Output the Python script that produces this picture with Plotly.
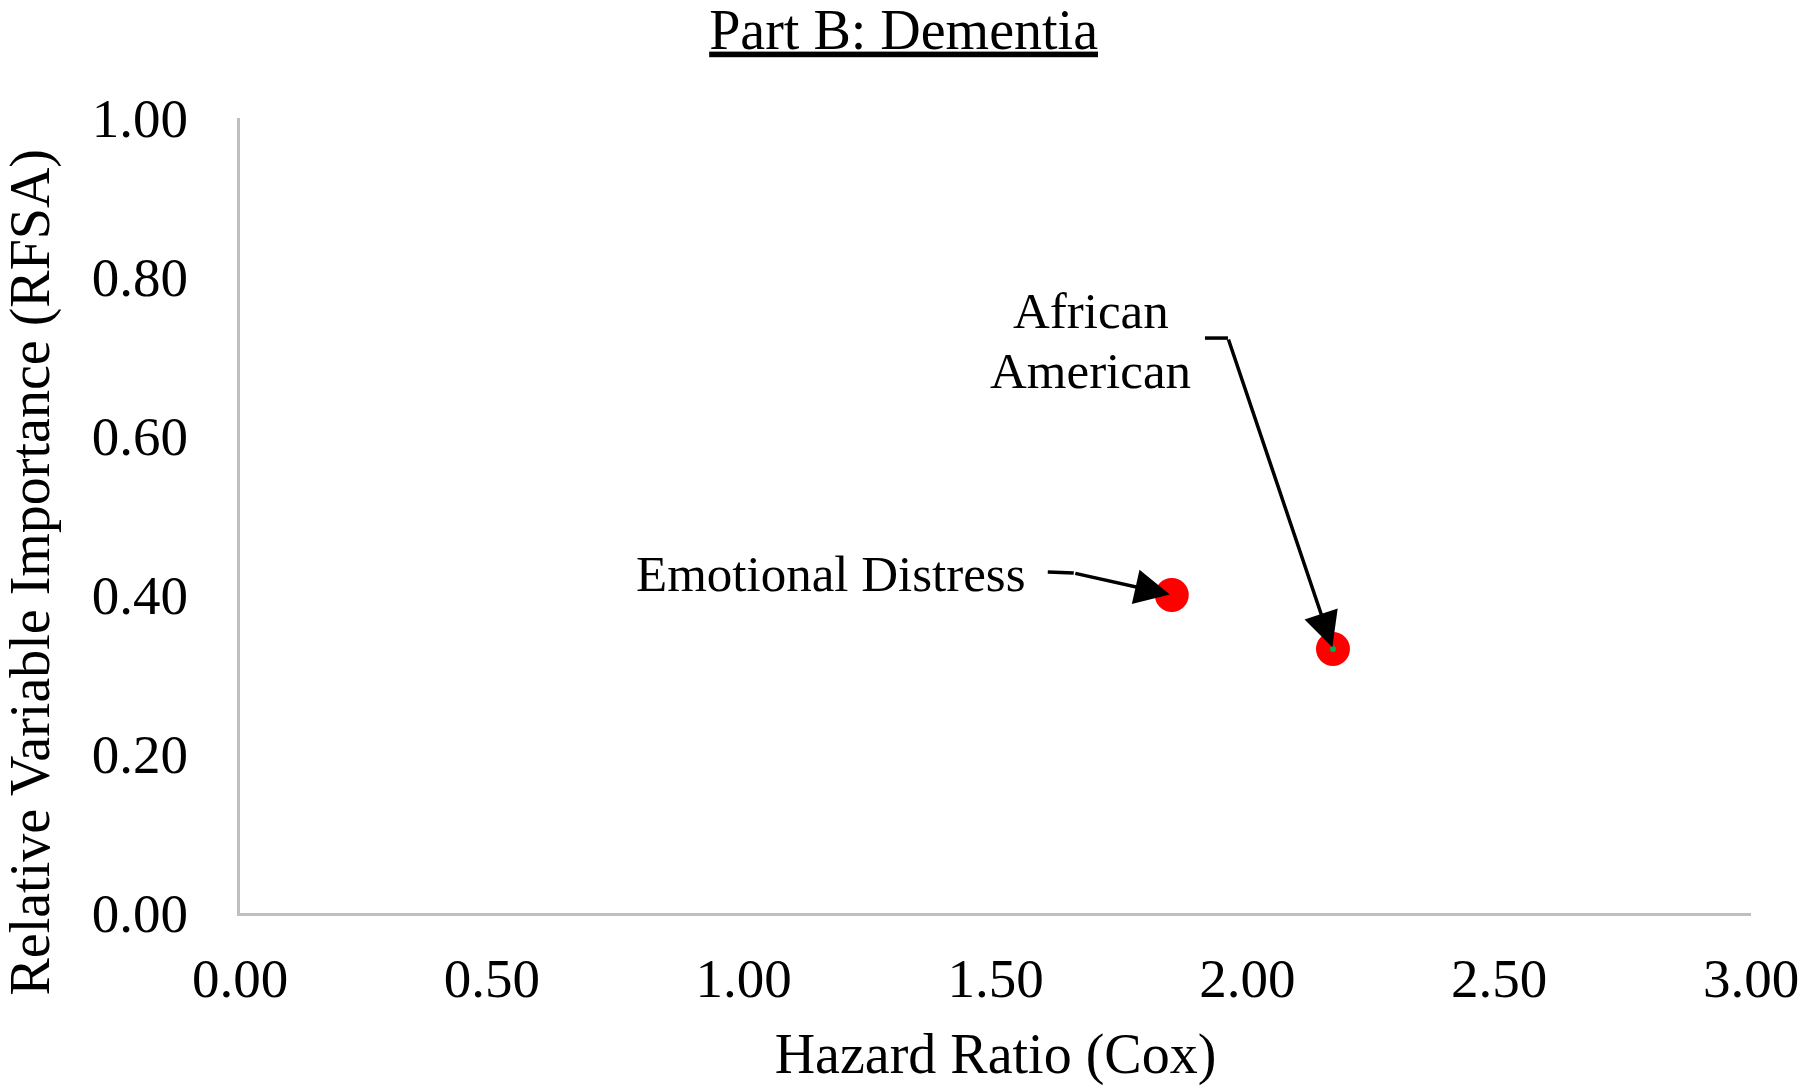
import plotly.graph_objects as go

labels = ["Emotional Distress", "African American"]
hazard_ratio = [1.85, 2.17]
importance = [0.40, 0.332]

x_ticks = [0.0, 0.5, 1.0, 1.5, 2.0, 2.5, 3.0]
y_ticks = [0.0, 0.2, 0.4, 0.6, 0.8, 1.0]

FONT = "Liberation Serif"
AXIS_GREY = "#BFBFBF"
ANN = dict(family=FONT, size=51, color="black")

fig = go.Figure()
fig.add_trace(go.Scatter(
    x=hazard_ratio, y=importance, mode="markers",
    marker=dict(color="#FF0000", size=34, line=dict(width=0)),
    hoverinfo="skip", showlegend=False, cliponaxis=False,
))
# small green point visible at the centre of the African American marker
fig.add_trace(go.Scatter(
    x=[hazard_ratio[1]], y=[importance[1]], mode="markers",
    marker=dict(color="#00B050", size=6),
    hoverinfo="skip", showlegend=False, cliponaxis=False,
))

# Emotional Distress label + arrow
fig.add_annotation(x=hazard_ratio[0], y=importance[0], text=labels[0],
                   showarrow=False, xanchor="right", yanchor="middle",
                   xshift=-144, yshift=21, font=ANN)
fig.add_annotation(x=hazard_ratio[0], y=importance[0], text="", showarrow=True,
                   ax=-98, ay=-22, arrowhead=2, arrowsize=2.0, arrowwidth=3.5,
                   arrowcolor="black", standoff=2)
fig.add_shape(type="line", xref="x", yref="y", xsizemode="pixel", ysizemode="pixel",
              xanchor=hazard_ratio[0], yanchor=importance[0],
              x0=-124, x1=-98, y0=23, y1=22, line=dict(color="black", width=3.5))

# African American label + arrow
fig.add_annotation(x=hazard_ratio[1], y=importance[1], text="African",
                   showarrow=False, xanchor="center", yanchor="middle",
                   xshift=-242, yshift=338, font=ANN)
fig.add_annotation(x=hazard_ratio[1], y=importance[1], text="American",
                   showarrow=False, xanchor="center", yanchor="middle",
                   xshift=-242, yshift=278, font=ANN)
fig.add_annotation(x=hazard_ratio[1], y=importance[1], text="", showarrow=True,
                   ax=-105, ay=-311, arrowhead=2, arrowsize=2.0, arrowwidth=3.5,
                   arrowcolor="black", standoff=2)
fig.add_shape(type="line", xref="x", yref="y", xsizemode="pixel", ysizemode="pixel",
              xanchor=hazard_ratio[1], yanchor=importance[1],
              x0=-128, x1=-105, y0=311, y1=311, line=dict(color="black", width=3.5))

# y-axis title (placed lower than the plot centre, as in the original)
fig.add_annotation(xref="paper", yref="paper", x=0, y=0.5,
                   xshift=-210, yshift=-57, textangle=-90,
                   xanchor="center", yanchor="middle", showarrow=False,
                   text="Relative Variable Importance (RFSA)",
                   font=dict(family=FONT, size=56, color="black"))

W, H = 1800, 1086
fig.update_layout(
    width=W, height=H,
    margin=dict(l=240, r=49, t=118, b=173),
    paper_bgcolor="white", plot_bgcolor="white",
    font=dict(family=FONT, color="black"),
    title=dict(text="<u>Part B: Dementia</u>", x=0.502, xanchor="center",
               y=1 - 29 / H, yanchor="middle",
               font=dict(family=FONT, size=56, color="black")),
)
fig.update_xaxes(
    range=[0, 3], tickvals=x_ticks, tickformat=".2f",
    showgrid=False, zeroline=False, showline=True, linecolor=AXIS_GREY, linewidth=3,
    ticks="outside", ticklen=15, tickcolor="rgba(0,0,0,0)",
    tickfont=dict(family=FONT, size=55, color="black"),
    title=dict(text="Hazard Ratio (Cox)", standoff=26,
               font=dict(family=FONT, size=56, color="black")),
    automargin=False,
)
fig.update_yaxes(
    range=[0, 1], tickvals=y_ticks, tickformat=".2f",
    showgrid=False, zeroline=False, showline=True, linecolor=AXIS_GREY, linewidth=3,
    ticks="outside", ticklen=38, tickcolor="rgba(0,0,0,0)",
    tickfont=dict(family=FONT, size=55, color="black"),
    automargin=False,
)

fig.write_html(
    "out.html",
    config={"displayModeBar": False},
    post_script="document.body.style.margin='0';"
                "document.documentElement.style.overflow='hidden';",
)
